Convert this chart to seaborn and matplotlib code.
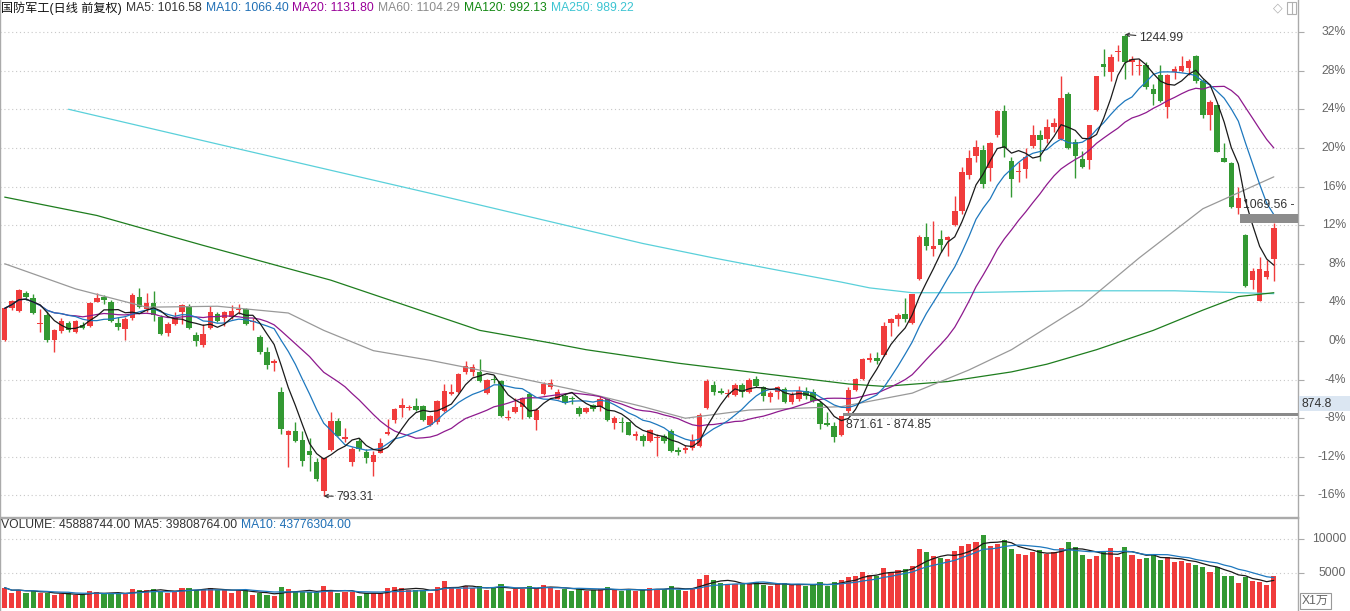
import numpy as np
import pandas as pd
import matplotlib
matplotlib.use("Agg")
import matplotlib.pyplot as plt
import seaborn as sns
from matplotlib.patches import Rectangle
from matplotlib.transforms import blended_transform_factory

# daily candles, values in % against the base price (right axis)
opens = [
    0.13, 3.38, 3.14, 4.96, 4.41, 1.81, 2.70, 0.06, 1.02, 1.84,
    0.91, 1.70, 1.60, 4.07, 4.51, 4.07, 1.87, 1.26, 2.35, 4.51,
    3.31, 3.93, 2.46, 0.85, 1.77, 2.97, 3.49, 0.64, -0.39, 1.33,
    2.80, 2.35, 2.46, 3.25, 3.31, 1.94, 0.40, -1.14, -2.24, -5.26,
    -9.78, -9.37, -10.30, -11.43, -12.52, -15.54, -11.26, -8.33, -10.10, -12.52,
    -10.37, -11.50, -12.52, -11.56, -9.59, -8.23, -6.97, -6.94, -6.73, -6.73,
    -8.67, -8.44, -7.21, -5.44, -5.27, -3.23, -3.23, -3.23, -5.37, -3.95,
    -4.15, -7.96, -7.31, -6.80, -5.51, -8.16, -5.50, -4.75, -5.97, -5.70,
    -5.87, -6.89, -7.40, -6.65, -6.79, -6.04, -8.49, -8.42, -8.42, -9.85,
    -9.85, -10.39, -10.00, -9.85, -9.27, -11.31, -11.31, -11.07, -10.90, -6.97,
    -4.56, -5.15, -5.50, -5.56, -4.56, -5.32, -3.94, -4.80, -5.84, -5.32,
    -4.98, -6.28, -6.00, -5.15, -5.25, -6.42, -8.52, -8.83, -9.72, -7.21,
    -5.05, -3.94, -1.95, -1.81, -1.47, 1.90, 2.24, 2.76, 1.83, 6.37,
    10.77, 9.53, 10.57, 10.50, 12.05, 13.42, 17.20, 19.20, 19.80, 17.89,
    21.32, 23.78, 18.64, 17.50, 17.82, 20.22, 21.38, 20.97, 22.17, 20.97,
    25.60, 20.56, 18.85, 18.75, 23.88, 28.68, 27.82, 29.96, 31.59, 28.92,
    28.50, 28.58, 26.10, 27.55, 24.23, 27.82, 28.00, 28.23, 29.53, 26.97,
    23.44, 24.40, 18.92, 18.40, 13.78, 10.97, 6.32, 4.19, 6.59, 8.47,
]
highs = [
    3.45, 4.27, 5.37, 5.20, 4.86, 3.31, 3.07, 1.26, 2.35, 2.11,
    2.22, 2.01, 4.07, 4.96, 4.75, 4.27, 2.46, 2.46, 4.96, 5.44,
    4.96, 5.17, 2.70, 1.94, 2.97, 3.83, 3.83, 0.98, 1.77, 3.59,
    3.04, 3.14, 3.73, 3.83, 3.38, 2.35, 0.57, -0.63, -1.83, -4.74,
    -9.20, -8.34, -9.37, -10.06, -12.11, -12.11, -7.31, -8.00, -9.01, -10.95,
    -10.03, -11.22, -11.39, -10.03, -8.10, -6.97, -5.95, -6.63, -5.95, -6.63,
    -7.65, -6.12, -4.42, -4.42, -3.33, -2.04, -2.38, -1.87, -3.91, -3.57,
    -4.01, -7.14, -5.95, -5.78, -5.27, -6.97, -4.25, -3.90, -5.02, -5.53,
    -5.70, -6.72, -6.79, -6.55, -5.70, -5.87, -7.74, -7.91, -8.35, -9.27,
    -9.61, -9.10, -9.61, -9.61, -9.10, -10.97, -10.73, -9.61, -7.50, -3.95,
    -4.12, -4.91, -5.00, -4.35, -4.35, -3.87, -3.60, -4.63, -5.15, -4.63,
    -4.80, -5.32, -4.70, -4.80, -4.98, -6.18, -7.39, -8.42, -7.77, -4.80,
    -3.84, -1.71, -1.20, -1.13, 1.97, 2.41, 2.93, 4.48, 4.89, 11.01,
    12.22, 12.39, 11.53, 10.84, 15.04, 18.00, 19.80, 20.80, 20.30, 20.63,
    23.88, 24.40, 19.09, 18.58, 20.02, 22.41, 21.82, 23.03, 23.10, 27.41,
    25.77, 20.90, 19.67, 22.41, 27.48, 30.29, 29.70, 30.70, 31.75, 29.53,
    29.19, 28.85, 26.62, 28.58, 27.65, 28.51, 29.53, 29.19, 29.60, 27.14,
    24.91, 24.47, 20.46, 18.58, 15.99, 11.10, 7.61, 8.65, 8.44, 12.20,
]
lows = [
    -0.01, 3.25, 2.97, 4.27, 2.77, 0.91, -0.11, -1.14, 0.81, 0.98,
    0.81, 1.26, 1.50, 4.00, 3.83, 2.01, 1.09, 0.06, 2.22, 3.38,
    2.97, 2.11, 0.64, 0.51, 1.67, 1.77, 1.26, -0.56, -0.63, 1.26,
    1.94, 1.60, 2.29, 2.80, 1.67, 1.09, -1.31, -2.92, -3.13, -9.64,
    -13.07, -10.48, -12.97, -13.49, -14.51, -16.05, -11.36, -9.86, -10.48, -12.93,
    -11.39, -12.59, -13.95, -11.63, -9.69, -8.50, -7.82, -7.14, -7.24, -8.33,
    -8.84, -8.57, -7.31, -5.61, -5.37, -3.40, -3.67, -4.25, -5.44, -4.35,
    -7.89, -8.23, -7.41, -8.10, -7.99, -9.18, -5.61, -5.00, -6.04, -6.55,
    -6.55, -7.74, -7.47, -7.23, -7.23, -8.25, -9.10, -9.44, -9.78, -10.29,
    -10.87, -10.46, -11.90, -10.52, -11.48, -11.82, -11.65, -11.24, -11.00, -7.04,
    -5.59, -5.49, -5.80, -5.66, -5.82, -5.42, -4.80, -6.18, -6.28, -6.01,
    -6.42, -6.52, -6.18, -6.01, -6.35, -9.10, -8.76, -10.48, -9.79, -7.42,
    -5.15, -4.01, -2.22, -2.34, -1.54, 0.53, 1.56, 1.97, 1.73, 6.30,
    9.47, 8.78, 9.19, 8.78, 11.94, 13.20, 16.80, 18.50, 15.80, 16.52,
    21.15, 19.10, 14.88, 16.45, 16.86, 20.02, 18.64, 20.46, 21.62, 20.80,
    19.88, 16.86, 17.96, 17.82, 23.78, 27.48, 26.97, 28.96, 27.14, 27.55,
    27.55, 26.11, 24.47, 24.80, 23.10, 27.14, 27.89, 27.55, 26.73, 23.10,
    21.83, 19.54, 18.51, 13.78, 13.18, 5.56, 5.39, 4.19, 6.42, 6.18,
]
closes = [
    3.38, 4.14, 5.30, 4.51, 2.90, 1.87, 0.13, 1.15, 2.11, 1.09,
    2.11, 1.36, 3.93, 4.45, 4.27, 2.11, 1.50, 2.29, 4.75, 3.49,
    3.93, 2.70, 0.74, 1.77, 2.35, 3.73, 1.33, -0.05, 0.74, 2.97,
    2.11, 2.97, 3.14, 3.35, 1.77, 2.08, -1.14, -2.44, -2.07, -9.10,
    -9.37, -10.40, -12.46, -11.77, -14.34, -12.11, -8.27, -9.80, -9.93, -11.16,
    -11.16, -12.07, -11.84, -10.54, -9.46, -7.07, -6.63, -6.80, -7.14, -8.23,
    -7.76, -6.19, -5.17, -5.31, -3.40, -2.55, -2.72, -4.15, -4.08, -4.08,
    -7.76, -7.82, -6.87, -5.95, -7.89, -7.14, -4.45, -4.40, -5.29, -6.45,
    -6.04, -7.57, -6.99, -7.06, -6.04, -8.15, -8.01, -8.52, -9.71, -9.61,
    -10.39, -9.20, -9.90, -10.39, -11.41, -11.48, -11.07, -10.29, -7.70, -4.12,
    -5.32, -5.39, -5.40, -4.56, -5.32, -4.05, -4.70, -5.66, -5.39, -4.80,
    -6.28, -5.59, -5.15, -5.66, -6.18, -8.59, -8.69, -9.96, -7.80, -5.05,
    -3.94, -1.88, -1.71, -2.05, 1.56, 2.31, 2.66, 2.24, 4.82, 10.77,
    9.81, 9.88, 9.98, 10.77, 13.49, 17.50, 19.00, 20.10, 16.30, 20.46,
    23.78, 19.95, 16.79, 17.60, 19.09, 21.32, 20.80, 22.17, 22.58, 25.15,
    19.95, 19.19, 18.06, 22.34, 27.41, 28.34, 29.36, 30.05, 28.85, 29.19,
    28.60, 26.28, 25.60, 24.90, 27.55, 28.16, 28.50, 29.02, 26.97, 23.37,
    24.80, 19.60, 18.58, 13.85, 14.80, 5.73, 7.20, 7.44, 7.27, 11.66,
]
# volume, unit 1万
volumes = [
    2930, 2210, 2594, 2210, 2450, 2210, 2114, 1873, 1970, 2114,
    1873, 1873, 2498, 2354, 1970, 2114, 2114, 1970, 2738, 2594,
    2594, 2738, 2450, 2114, 2258, 2930, 2930, 2594, 2690, 2834,
    2594, 2594, 2210, 2594, 2594, 1873, 2114, 1873, 1777, 2978,
    2738, 2354, 2354, 2258, 2258, 3170, 2594, 2114, 2354, 2258,
    1729, 2114, 2210, 2210, 2930, 3074, 2930, 2594, 2594, 2594,
    2114, 3074, 3939, 3000, 2700, 3200, 2900, 3100, 2600, 2900,
    3500, 2500, 2700, 2800, 3100, 2900, 3300, 3000, 2600, 2700,
    2500, 2800, 2400, 2600, 2700, 3000, 2600, 2400, 2800, 2500,
    2600, 2900, 2700, 2800, 3200, 2600, 2500, 2900, 4200, 4800,
    4000, 3600, 3300, 3500, 3400, 3600, 3800, 3300, 3200, 3400,
    3600, 3300, 3400, 3200, 3300, 3800, 3200, 3700, 4000, 4500,
    4600, 5200, 4800, 4600, 5800, 5200, 5500, 5600, 6000, 8500,
    8000, 7500, 7200, 7000, 8200, 9000, 9200, 9500, 10500, 9000,
    9200, 9800, 8500, 7800, 7600, 8000, 8300, 7800, 8000, 8600,
    9500, 8800, 7600, 7000, 7500, 8200, 8600, 7400, 8800, 7600,
    7000, 7200, 7700, 6900, 7400, 6600, 6800, 6500, 6200, 5860,
    5150, 5850, 4600, 4622, 3650, 4500, 3850, 3700, 3265, 4589,
]

# long moving averages, read at a few candles
ma60_at = [0, 10, 20, 30, 40, 45, 52, 60, 70, 80, 90, 96, 105, 118, 128, 136, 142, 152, 160, 169, 179]
ma60_pct = [8.0, 5.4, 3.5, 3.6, 2.9, 1.1, -1.0, -2.0, -3.45, -5.0, -6.8, -8.0, -7.15, -6.8, -5.4, -3.0, -0.9, 3.7, 8.6, 13.7, 17.0]
ma120_at = [0, 13, 28, 46, 67, 77, 82, 95, 119, 124, 133, 142, 147, 154, 162, 169, 174, 179]
ma120_pct = [14.9, 13.0, 9.9, 6.3, 1.1, -0.2, -0.9, -2.3, -4.45, -4.7, -4.2, -3.2, -2.4, -0.9, 1.1, 3.2, 4.6, 5.0]
ma250_at = [9, 30, 60, 90, 100, 110, 118, 122, 128, 135, 150, 165, 179]
ma250_pct = [24.0, 20.4, 15.3, 10.1, 8.6, 7.2, 6.1, 5.5, 5.0, 5.0, 5.2, 5.2, 4.9]

pct_ticks = list(range(-16, 33, 4))
vol_ticks = [5000, 10000]

title_items = [
    ("国防军工(日线 前复权)", "#111111"),
    ("MA5: 1016.58", "#333333"),
    ("MA10: 1066.40", "#1f6fb5"),
    ("MA20: 1131.80", "#990099"),
    ("MA60: 1104.29", "#8c8c8c"),
    ("MA120: 992.13", "#118811"),
    ("MA250: 989.22", "#3cc4d2"),
]
vol_items = [
    ("VOLUME: 45888744.00", "#333333"),
    ("MA5: 39808764.00", "#333333"),
    ("MA10: 43776304.00", "#1f6fb5"),
]

RED = "#f03c3c"
GREEN = "#339933"
W, H = 1350, 611
FS = 8.7


def px2i(px):
    # horizontal pixel -> candle index
    return (px - 4.7) / 7.09


sns.set_theme(style="white")
plt.rcParams["font.family"] = ["Liberation Sans", "Noto Sans CJK SC", "DejaVu Sans"]

df = pd.DataFrame({"open": opens, "high": highs, "low": lows, "close": closes, "vol": volumes})
df["i"] = np.arange(len(df))
df["dir"] = np.where(df["close"] >= df["open"], "up", "down")
for n in (5, 10, 20):
    df[f"ma{n}"] = df["close"].rolling(n, min_periods=1).mean()
df["vma5"] = df["vol"].rolling(5, min_periods=1).mean()
df["vma10"] = df["vol"].rolling(10, min_periods=1).mean()
colors = np.where(df["dir"] == "up", RED, GREEN)

fig = plt.figure(figsize=(W / 100, H / 100), dpi=100)
ax = fig.add_axes([0, 1 - 517 / H, 1298 / W, 517 / H])
axv = fig.add_axes([0, 0, 1298 / W, 93 / H])
xlim = (px2i(0), px2i(1298))

# --- price panel ---
for v in pct_ticks:
    ax.axhline(v, color="#c8c8c8", lw=0.8, ls=(0, (1, 2.5)), zorder=0)

ax.vlines(df["i"], df["low"], df["high"], colors=colors, lw=1, zorder=2)
body = np.maximum((df["close"] - df["open"]).abs(), 0.08)
ax.bar(df["i"], body, bottom=np.minimum(df["open"], df["close"]), width=0.78,
       color=colors, lw=0, zorder=2)

line_kw = dict(ax=ax, lw=0.9, legend=False, zorder=3)
sns.lineplot(x=ma250_at, y=ma250_pct, color="#5ad0da", **line_kw)
sns.lineplot(x=ma120_at, y=ma120_pct, color="#1e7d1e", **line_kw)
sns.lineplot(x=ma60_at, y=ma60_pct, color="#999999", **line_kw)
sns.lineplot(x=df["i"], y=df["ma20"], color="#8e1a8e", **line_kw)
sns.lineplot(x=df["i"], y=df["ma10"], color="#1e78be", **line_kw)
sns.lineplot(x=df["i"], y=df["ma5"], color="#1a1a1a", **line_kw)

# price gaps
gap1_lo, gap1_hi = highs[118], lows[119]
ax.add_patch(Rectangle((118.3, gap1_lo), xlim[1] - 118.3, gap1_hi - gap1_lo,
                       color="#8a8a8a", lw=0, zorder=4))
gap2_lo, gap2_hi = highs[179], lows[174]
ax.add_patch(Rectangle((px2i(1240), gap2_lo), xlim[1] - px2i(1240), gap2_hi - gap2_lo,
                       color="#8c8c8c", lw=0, zorder=4))
ax.text(118.6, -8.7, "871.61 - 874.85", fontsize=FS, color="#333333", va="center", zorder=5)
ax.text(174.7, 14.08, "1069.56 - 1", fontsize=FS, color="#333333", va="center",
        clip_on=True, zorder=5)

arrow = dict(arrowstyle="->", color="#333333", lw=0.8, shrinkA=0, shrinkB=0, mutation_scale=6)
ax.annotate("793.31", xy=(45, lows[45]), xytext=(46.8, -16.12), fontsize=FS,
            color="#333333", va="center", arrowprops=arrow, zorder=5)
ax.annotate("1244.99", xy=(158, highs[158]), xytext=(160.0, 31.4), fontsize=FS,
            color="#333333", va="center", arrowprops=arrow, zorder=5)

ax.set_xlim(*xlim)
ax.set_ylim((341 - 517) / 9.656, 341 / 9.656)
ax.set_xticks([])
ax.set_yticks(pct_ticks)
ax.set_yticklabels([])
ax.yaxis.tick_right()
ax.tick_params(axis="y", right=True, left=False, length=4, color="#aaaaaa", width=0.8)
ax.set_xlabel("")
ax.set_ylabel("")
for side, sp in ax.spines.items():
    sp.set_color("#aaaaaa")
    sp.set_linewidth(1)
ax.spines["top"].set_visible(False)

tr = blended_transform_factory(fig.transFigure, ax.transData)
for v in pct_ticks:
    ax.text(1346 / W, v, f"{v}%", transform=tr, ha="right", va="center",
            color="#666666", fontsize=FS, clip_on=False)

# --- volume panel ---
for v in vol_ticks:
    axv.axhline(v, color="#c8c8c8", lw=0.8, ls=(0, (1, 2.5)), zorder=0)
sns.barplot(data=df, x="i", y="vol", hue="dir", palette={"up": RED, "down": GREEN},
            dodge=False, native_scale=True, width=0.72, saturation=1, errorbar=None,
            legend=False, ax=axv, linewidth=0, zorder=2)
sns.lineplot(x=df["i"], y=df["vma5"], color="#1a1a1a", lw=0.9, ax=axv, legend=False, zorder=3)
sns.lineplot(x=df["i"], y=df["vma10"], color="#1e78be", lw=0.9, ax=axv, legend=False, zorder=3)
axv.set_xlim(*xlim)
axv.set_ylim(-432, 12968)
axv.set_xticks([])
axv.set_yticks(vol_ticks)
axv.set_yticklabels([])
axv.yaxis.tick_right()
axv.tick_params(axis="y", right=True, left=False, length=4, color="#aaaaaa", width=0.8)
axv.set_xlabel("")
axv.set_ylabel("")
for side, sp in axv.spines.items():
    sp.set_color("#aaaaaa")
    sp.set_linewidth(1)
axv.spines["bottom"].set_visible(False)

trv = blended_transform_factory(fig.transFigure, axv.transData)
for v in vol_ticks:
    axv.text(1346 / W, v, f"{v}", transform=trv, ha="right", va="center",
             color="#666666", fontsize=FS, clip_on=False)

# --- header rows ---
renderer = fig.canvas.get_renderer()


def write_row(items, y_px, x_px=1):
    for s, c in items:
        t = fig.text(x_px / W, 1 - y_px / H, s, color=c, fontsize=FS, ha="left", va="center")
        x_px += t.get_window_extent(renderer=renderer).width + 4


write_row(title_items, 8)
write_row(vol_items, 525)

# right-side boxes and icons
fig.patches.append(Rectangle((1299 / W, 1 - 411 / H), 51 / W, 15 / H, transform=fig.transFigure,
                             facecolor="#dbe6f2", edgecolor="none"))
fig.text(1301 / W, 1 - 404 / H, "874.8", fontsize=FS, color="#333333", ha="left", va="center")
fig.text(1302 / W, 1 - 601 / H, "X1万", fontsize=FS, color="#666666", ha="left", va="center",
         bbox=dict(boxstyle="square,pad=0.15", facecolor="white", edgecolor="#999999", lw=0.8))
fig.text(1278 / W, 1 - 8 / H, "◇", fontsize=9, color="#b0b0b0", ha="center", va="center",
         family="DejaVu Sans")
fig.patches.append(Rectangle((1287 / W, 1 - 14 / H), 9 / W, 12 / H, transform=fig.transFigure,
                             facecolor="none", edgecolor="#b0b0b0", lw=0.8))
fig.lines.append(plt.Line2D([1291.5 / W, 1291.5 / W], [1 - 14 / H, 1 - 2 / H],
                            transform=fig.transFigure, color="#b0b0b0", lw=0.8))

fig.savefig("out.png", dpi=100, facecolor="white")
